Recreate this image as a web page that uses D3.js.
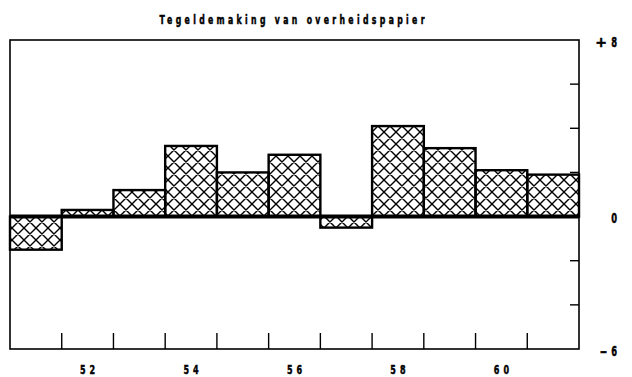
<!DOCTYPE html>
<html>
<head>
<meta charset="utf-8">
<script src="https://cdn.jsdelivr.net/npm/d3@7"></script>
<style>
  html, body { margin: 0; padding: 0; background: #fff; }
  svg { display: block; }
  text { font-family: "DejaVu Sans", sans-serif; font-weight: bold; fill: #000; stroke: #000; stroke-width: 0.5; }
</style>
</head>
<body>
<svg id="chart" width="632" height="377"></svg>
<script>
// Jaarlijkse tegeldemaking van overheidspapier (mld), 1951–1961
const years = [51, 52, 53, 54, 55, 56, 57, 58, 59, 60, 61];
const values = [-1.5, 0.3, 1.2, 3.2, 2.0, 2.8, -0.5, 4.1, 3.1, 2.1, 1.9];
const yearLabels = [52, 54, 56, 58, 60];
const yTicks = [-6, -4, -2, 0, 2, 4, 6, 8];
const yLabels = [{ v: 8, sign: "+", num: "8" }, { v: 0, sign: "", num: "0" }, { v: -6, sign: "–", num: "6" }];

const svg = d3.select("#chart");
const plot = { left: 10, right: 579, top: 40, bottom: 349 };
const squeeze = 0.62; // horizontal compression for the narrow lettering

const x = d3.scaleBand().domain(years).range([plot.left, plot.right]).padding(0);
const y = d3.scaleLinear().domain([-6, 8]).range([plot.bottom, plot.top]);

// narrow bold text: placed at (tx, ty), compressed horizontally
function narrowText(parent, tx, ty, str, size, spacing, anchor) {
  return parent.append("text")
    .attr("transform", `translate(${tx},${ty}) scale(${squeeze},1)`)
    .attr("text-anchor", anchor)
    .attr("font-size", size)
    .attr("letter-spacing", spacing)
    .text(str);
}

// cross-hatch fill
const defs = svg.append("defs");
const pat = defs.append("pattern")
  .attr("id", "hatch")
  .attr("patternUnits", "userSpaceOnUse")
  .attr("width", 12).attr("height", 12);
pat.append("path")
  .attr("d", "M-3,-3 L15,15 M15,-3 L-3,15 M-3,9 L3,15 M9,-3 L15,3 M9,15 L15,9 M-3,3 L3,-3")
  .attr("stroke", "#000").attr("stroke-width", 1.4).attr("fill", "none");

// title
const titleSpacing = 5.4;
narrowText(svg, 292 + titleSpacing * squeeze / 2, 24, "Tegeldemaking van overheidspapier", 12.5, titleSpacing, "middle");

// frame
svg.append("rect")
  .attr("x", plot.left).attr("y", plot.top)
  .attr("width", plot.right - plot.left).attr("height", plot.bottom - plot.top)
  .attr("fill", "none").attr("stroke", "#000").attr("stroke-width", 1.6);

// right-hand ticks (inward)
svg.append("g").selectAll("line")
  .data(yTicks.filter(v => v !== 8 && v !== -6 && v !== 0))
  .join("line")
  .attr("x1", plot.right - 9).attr("x2", plot.right)
  .attr("y1", d => y(d)).attr("y2", d => y(d))
  .attr("stroke", "#000").attr("stroke-width", 1.4);

// bottom ticks at year boundaries
svg.append("g").selectAll("line")
  .data(years.slice(1))
  .join("line")
  .attr("x1", d => x(d)).attr("x2", d => x(d))
  .attr("y1", plot.bottom - 16).attr("y2", plot.bottom)
  .attr("stroke", "#000").attr("stroke-width", 1.4);

// bars
svg.append("g").selectAll("rect")
  .data(years.map((yr, i) => ({ yr, v: values[i] })))
  .join("rect")
  .attr("x", d => x(d.yr))
  .attr("width", x.bandwidth())
  .attr("y", d => y(Math.max(0, d.v)))
  .attr("height", d => Math.abs(y(d.v) - y(0)))
  .attr("fill", "url(#hatch)")
  .attr("stroke", "#000").attr("stroke-width", 2.4);

// zero line
svg.append("line")
  .attr("x1", plot.left).attr("x2", plot.right)
  .attr("y1", y(0)).attr("y2", y(0))
  .attr("stroke", "#000").attr("stroke-width", 4);

// year labels
const yearSpacing = 6.5;
const yearG = svg.append("g");
yearLabels.forEach(d => {
  narrowText(yearG, x(d) + x.bandwidth() / 2 + yearSpacing * squeeze / 2, 374, String(d), 13, yearSpacing, "middle");
});

// right-hand value labels
const valG = svg.append("g");
yLabels.forEach(d => {
  narrowText(valG, 617, y(d.v) + 6.5, d.num, 13.5, 0, "end");
  if (d.sign) {
    valG.append("text")
      .attr("x", 607).attr("y", y(d.v) + 6.5)
      .attr("text-anchor", "end")
      .attr("font-size", 14)
      .text(d.sign);
  }
});
</script>
</body>
</html>
